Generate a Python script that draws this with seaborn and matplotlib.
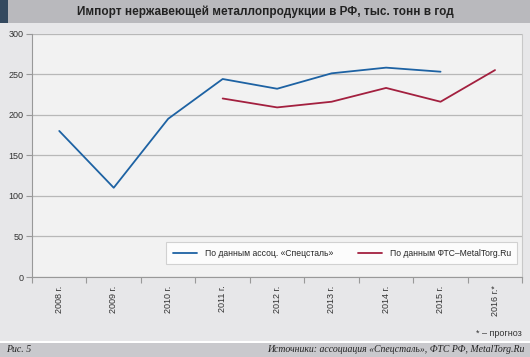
import numpy as np
import pandas as pd
import matplotlib.pyplot as plt
import seaborn as sns

years = ["2008 г.", "2009 г.", "2010 г.", "2011 г.", "2012 г.", "2013 г.", "2014 г.", "2015 г.", "2016 г.*"]
spetsstal = [180, 110, 195, 244, 232, 251, 258, 253, np.nan]
fts = [np.nan, np.nan, np.nan, 220, 209, 216, 233, 216, 255]
series_names = ["По данным ассоц. «Спецсталь»", "По данным ФТС–MetalTorg.Ru"]

df = pd.DataFrame({
    "pos": list(range(len(years))) * 2,
    "value": spetsstal + fts,
    "source": [series_names[0]] * len(years) + [series_names[1]] * len(years),
}).dropna()

sns.set_style("white")
plt.rcParams["font.family"] = ["Liberation Sans", "DejaVu Sans"]

fig = plt.figure(figsize=(5.3, 3.57), dpi=100)
fig.patch.set_facecolor("#e7e7e9")
ax = fig.add_axes([0.0604, 0.224, 0.925, 0.682])
ax.set_facecolor("#f2f2f2")

sns.lineplot(data=df, x="pos", y="value", hue="source", hue_order=series_names,
             palette=["#1d62a3", "#a3203f"], linewidth=1.3, ax=ax)

ax.set_xlim(-0.5, len(years) - 0.5)
ax.set_ylim(0, 300)
ax.set_yticks(range(0, 301, 50))
ax.yaxis.grid(True, color="#b8b8b8", linewidth=0.9)
ax.set_axisbelow(True)
ax.set_xticks(np.arange(-0.5, len(years), 1.0))
ax.set_xticklabels([])
ax.set_xticks(range(len(years)), minor=True)
ax.set_xticklabels(years, minor=True, rotation=90, fontsize=6.5, color="#333333")
ax.tick_params(axis="x", which="major", length=4, color="#999999", direction="out", bottom=True)
ax.tick_params(axis="x", which="minor", length=0, pad=6)
ax.tick_params(axis="y", length=4, color="#999999", labelsize=6.5, labelcolor="#333333", pad=2, left=True)
ax.set_xlabel("")
ax.set_ylabel("")
ax.spines["top"].set_visible(False)
ax.spines["left"].set_color("#999999")
ax.spines["bottom"].set_color("#999999")
ax.spines["right"].set_color("#c8c8c8")

leg = ax.legend(loc="lower right", bbox_to_anchor=(0.99, 0.053), ncol=2, fontsize=6.2,
                frameon=True, fancybox=False, handlelength=2.8, columnspacing=2.9,
                borderpad=0.75, handletextpad=0.9, borderaxespad=0)
leg.get_frame().set_edgecolor("#c8c8c8")
leg.get_frame().set_linewidth(0.8)
leg.get_frame().set_facecolor("white")

# title bar
fig.patches.append(plt.Rectangle((0, 1 - 23 / 357), 1, 23 / 357, transform=fig.transFigure,
                                 facecolor="#b9b9bd", edgecolor="none", zorder=0))
fig.patches.append(plt.Rectangle((0, 1 - 23 / 357), 8 / 530, 23 / 357, transform=fig.transFigure,
                                 facecolor="#34495f", edgecolor="none", zorder=1))
fig.text(0.5, 1 - 11.5 / 357, "Импорт нержавеющей металлопродукции в РФ, тыс. тонн в год",
         ha="center", va="center", fontsize=8.5, fontweight="bold", color="#222222")

# bottom bar
fig.patches.append(plt.Rectangle((0, 0), 1, 14 / 357, transform=fig.transFigure,
                                 facecolor="#c9c9cd", edgecolor="none", zorder=0))
fig.patches.append(plt.Rectangle((0, 14 / 357), 1, 2 / 357, transform=fig.transFigure,
                                 facecolor="white", edgecolor="none", zorder=0))
fig.text(6 / 530, 7 / 357, "Рис. 5", ha="left", va="center", fontsize=7,
         style="italic", family="Liberation Serif", color="#222222")
fig.text(524 / 530, 7 / 357, "Источники: ассоциация «Спецсталь», ФТС РФ, MetalTorg.Ru",
         ha="right", va="center", fontsize=7, style="italic", family="Liberation Serif", color="#222222")
fig.text(522 / 530, 1 - 333 / 357, "* – прогноз", ha="right", va="center", fontsize=6.5, color="#333333")

fig.savefig("out.png", dpi=100, facecolor=fig.get_facecolor())
